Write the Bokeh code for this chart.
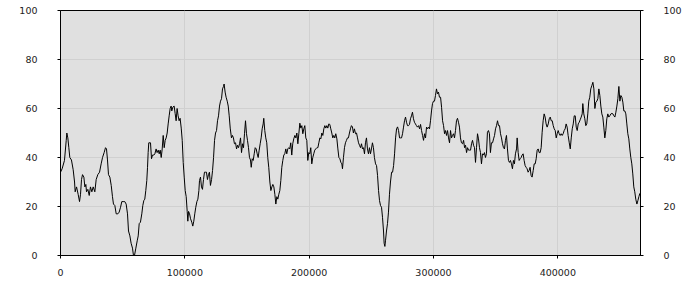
from bokeh.plotting import figure
from bokeh.models import Range1d, LinearAxis, FixedTicker, BasicTickFormatter
from bokeh.embed import file_html
from bokeh.resources import INLINE

x_vals = [
    0, 1300, 3200, 4600, 5100, 5900, 6700, 7500, 8800, 10200,
    11300, 11800, 12900, 14200, 15300, 16100, 16900, 17700, 18800, 19600,
    20400, 20900, 22000, 23100, 24100, 25200, 26300, 27600, 28700, 30000,
    31400, 32700, 33800, 35100, 36200, 37000, 37800, 38600, 39700, 40800,
    41800, 42600, 43700, 44800, 46100, 47200, 48300, 49300, 50400, 51700,
    52800, 53900, 54700, 55800, 56800, 57900, 58700, 59500, 60600, 61700,
    62500, 63300, 64300, 65400, 66200, 67000, 67800, 68600, 69400, 70000,
    70500, 71000, 72400, 73200, 74000, 75100, 75900, 76900, 77700, 78600,
    79400, 80200, 81000, 81800, 82600, 83400, 84200, 85000, 85800, 86600,
    87400, 88200, 89000, 89500, 90300, 91400, 92200, 93000, 93800, 94600,
    95400, 96200, 97100, 97900, 98700, 99500, 100300, 101100, 101900, 102400,
    103000, 103800, 104600, 105600, 106400, 107200, 108000, 108800, 109700, 110500,
    111300, 111800, 112600, 113400, 114200, 115000, 115800, 116600, 117400, 118200,
    119000, 119800, 120600, 121500, 122300, 123100, 123900, 124700, 125500, 126300,
    127100, 127900, 128700, 129500, 130300, 131100, 131600, 132400, 133200, 134100,
    134900, 135700, 136500,
    137500, 138300, 139100, 139900, 140800, 141600, 142400, 143200, 144000, 144800,
    145600, 146400, 147200, 148000, 148800, 149600, 150400, 151200, 152000, 152800,
    153400, 154200, 155000, 155800, 156600, 157400, 158200, 159000, 159800, 160600,
    161400, 162200, 163000, 163500, 164300, 165100, 165900, 166700, 167500, 168400,
    169200, 170000, 170800, 171600, 172400, 173200, 174000, 174800, 175600, 176400,
    177200, 178000, 178800, 179600, 180400, 181200, 182000, 182800, 183600, 184400,
    185200, 186000, 186800, 187600, 188500, 189300, 190100, 190900, 191700, 192500,
    193300, 194100, 194900, 195700, 196500, 197300, 198100, 198900, 199700, 200500,
    201300, 202100, 202900, 203700, 204500, 205300, 206200, 207000, 207800, 208600,
    209400, 210200, 211000, 211800, 212600, 213400, 214200, 215000, 215800, 216600,
    217400, 218200, 219000, 219800, 220600, 221400, 222300, 223100, 223900, 224700,
    225500, 226300, 226800, 227600, 228400, 229200, 230000, 230800, 231600, 232400,
    233200, 234000, 234800, 235600, 236400, 237300, 238100, 238900, 239700, 240500,
    241300, 242100, 242900, 243700, 244500, 245300, 246100, 246900, 247700, 248500,
    249300, 250100, 250900, 251700, 252500, 253400, 254200, 255000, 255800, 256600,
    257400, 258200, 259000, 259800, 260300, 260900, 261400, 262200, 263000, 263800,
    264600, 265400, 266300, 267100, 267900, 268700, 269500, 270300, 271100, 271900,
    272700, 273500, 274300, 275100, 275900, 276700, 277500, 278300, 279100, 279900,
    280700, 281500, 282300, 283100, 283900, 284700, 285500, 286300, 287100, 288000,
    288800, 289600, 290400, 291200, 292000, 292800, 293600, 294400, 295200, 296000,
    296800, 297600, 298400, 299200, 300000, 300800, 301600, 302400, 303200, 304000,
    304800, 305700, 306500, 307300, 308100, 308900, 309700, 310500, 311300, 312100,
    312900, 313700, 314500, 315300, 316100, 316900, 317700, 318500, 319300, 320100,
    320900, 321700, 322500, 323400, 324200, 325000, 325800, 326600, 327400, 328200,
    329000, 329800,
    330600, 331400, 332200, 333000, 333800, 334600, 335400, 336200, 337000, 337800,
    338600, 339400, 340200, 341000, 341800, 342600, 343400, 344200, 345000, 345800,
    346600, 347500, 348300, 349100, 349900, 350700, 351500, 352300, 353100, 353900,
    354700, 355500, 356300, 357100, 357900, 358700, 359500, 360300, 361100, 361900,
    362700, 363500, 364300, 365100, 365900, 366800, 367300, 368100, 368900, 369700,
    370500, 371300, 372100, 372900, 373700, 374500, 375300, 376100, 376900, 377700,
    378500, 379300, 380200, 381000, 381800, 382600, 383400, 384200, 385000, 385800,
    386600, 387400, 388200, 389000, 389800, 390600, 391400, 392300, 393100, 393900,
    394700, 395500, 396300, 397100, 397900, 398700, 399500, 400300, 401100, 401900,
    402700, 403500, 404300, 405100, 405900, 406700, 407500, 408300, 409200, 410000,
    410800, 411600, 412400, 413200, 414000, 414800, 415600, 416400, 417200, 418000,
    418800, 419600, 420100, 420900, 421700, 422500, 423300, 424100, 424900, 425700,
    426500, 427400, 428200, 429000, 429800, 430600, 431400, 432200, 433000, 433800,
    434600, 435400, 436200, 437000, 437800, 438600, 439400, 440200, 441000, 441800,
    442700, 443500, 444300, 445100, 445900, 446700, 447500, 448300, 449100, 449900,
    450700, 451500, 452300, 453100, 453900, 454700, 455500, 456300, 457100, 457900,
    458700, 459500, 460300, 461100, 461900, 462700, 463600, 464400, 465200, 466000,
]

y_vals = [
    34, 35.4, 38.8, 47, 50, 48, 44, 40, 39, 35,
    30, 26, 28, 25, 22, 25, 31, 33, 32, 28,
    29, 26, 27, 24.5, 28, 26, 28, 26, 31, 33,
    34, 37.4, 40, 42, 44, 43.5, 39, 33, 32, 28.6,
    24, 21, 20.4, 17, 17, 17.7, 19.7, 22, 22, 22,
    21, 17, 10, 8, 5, 3, 0, 0, 3, 6,
    8, 13, 13.6, 17, 20.4, 22.4, 23, 26.5, 30.6, 36,
    42, 46, 46, 39.5, 41, 41, 41.5, 43.5, 42, 43,
    41.5, 43, 40, 43.5, 49, 44, 47, 48, 50, 53.7,
    57, 60, 61, 59, 60.5, 61, 58, 55, 60, 57,
    55, 56, 52, 47, 38, 32, 26.5, 24, 18, 14,
    18, 17, 15, 13.6, 12, 14, 17, 19.7, 22, 23,
    26.5, 30.6, 32, 28, 27, 31, 34, 34, 34, 31,
    33, 34, 28.6, 31, 34.7, 40, 47, 50, 51, 55,
    57, 61, 63, 64, 68, 69, 70, 66.7, 64.6, 63,
    61, 57, 52,
    48, 49, 48, 45.6, 46, 43.5, 45, 44, 45.6, 48,
    42, 45.6, 44, 49.7, 55, 49.7, 47, 44, 40, 39,
    36, 39.5, 38.8, 41.5, 44, 43.5, 41.5, 40, 43, 45.6,
    48, 51.7, 53.7, 56, 51, 48, 46, 40, 36, 30,
    26.5, 28, 29, 28, 25, 21, 24, 23, 25, 26.5,
    30.6, 36, 38.8, 41, 41.5, 43.5, 41.5, 43.5, 44, 43.5,
    46, 41, 45.6, 47.6, 49, 48, 50, 45.6, 49.7, 54,
    52, 53, 49.7, 51.7, 53, 48, 47, 38.8, 42, 41.5,
    44, 37.4, 40, 41.5, 43, 43.5, 44, 44, 46, 48,
    47.6, 50, 49, 51.7, 53, 52, 53, 52, 53.7, 53.5,
    51.7, 50, 48, 49, 48, 49.7, 47.6, 43.5, 40, 39.5,
    38, 37.4, 35.4, 40, 44, 46, 47, 48, 48, 50,
    51.7, 53, 52.5, 50, 51.7, 49.7, 50, 48, 46, 45,
    44, 45.6, 43.5, 44, 41.5, 46, 48, 43.5, 41.5, 44,
    41.5, 43.5, 46, 44, 40, 37.4, 36.7, 32.7, 26.5, 22.4,
    20.4, 19.7, 15.6, 10, 5, 3.7, 6, 10, 13, 17.7,
    25, 30, 34, 34, 36.7, 41.5, 48, 51.7, 52.5, 51,
    48, 48, 48, 49.7, 52.4, 55, 56.5, 54.4, 53, 53,
    53.5, 55.8, 57, 58.5, 55.8, 54.4, 53.7, 53, 52.4, 53,
    51.7, 53.5, 51, 49, 47, 49.7, 48, 52.4, 51.7, 52.4,
    51.7, 55, 59, 62, 63, 63, 65.3, 68, 66, 66.7,
    64.6, 64.6, 60.5, 55, 53, 49.7, 51, 49, 51, 48,
    46, 51, 48, 49, 49.7, 48, 51, 55, 56, 54.4,
    52.4, 48, 46, 45.6, 47, 44, 45, 42, 44, 43,
    43, 43,
    45.6, 47, 45, 44, 38, 44, 49.7, 47.6, 44, 42,
    37.4, 41.5, 41, 42, 40, 41.5, 50.3, 51, 49.7, 42,
    46, 46, 47.6, 49, 51.7, 53, 55, 53, 53, 49.7,
    48, 45.6, 44, 43.5, 47, 49, 43.5, 38.8, 38, 38.8,
    37.4, 35.4, 38.8, 37.4, 41.5, 43.5, 48, 42, 38.8, 39.5,
    40, 41, 41.5, 38.8, 36.7, 36, 35.4, 34, 34.7, 36,
    32.7, 32, 34.7, 37.4, 37.4, 39.5, 43, 43.5, 42, 42,
    44, 50.3, 55, 57.8, 56.5, 53.7, 52.4, 53.7, 55.8, 56.5,
    55, 55, 53, 51.7, 51, 48, 49.7, 51, 49.7, 49,
    49.7, 49, 49.7, 51, 51.7, 53.7, 52.4, 49, 46, 43.5,
    48, 51.7, 53.7, 57, 57, 52.4, 51, 53.7, 54.4, 55.4,
    56.5, 57.8, 62, 57.8, 55.8, 53, 53.7, 57.8, 63, 64.6,
    68, 69.4, 70.7, 68, 60, 62.6, 63, 64, 68, 65.3,
    61, 57.8, 56.5, 52.4, 48, 51, 55.8, 57.8, 56.5, 57,
    57.8, 58, 57.8, 57, 56.5, 58.5, 61, 64, 69, 63,
    65.3, 64.6, 62.6, 59, 59, 57.8, 53.7, 49.7, 47.6, 43.5,
    40, 37.4, 33.3, 28, 26, 23, 21, 22.4, 24, 25.4,
]

x_ticks = [0, 100000, 200000, 300000, 400000]
y_ticks = [0, 20, 40, 60, 80, 100]

n = min(len(x_vals), len(y_vals))

p = figure(width=700, height=300, output_backend="svg", toolbar_location=None,
           x_range=Range1d(0, 466500), y_range=Range1d(0, 100),
           min_border_left=60, min_border_right=60, min_border_top=10,
           min_border_bottom=45, background_fill_color="#e0e0e0",
           border_fill_color="white")
p.outline_line_color = "black"
p.outline_line_width = 1

p.line(x_vals[:n], y_vals[:n], line_color="black", line_width=1)

p.add_layout(LinearAxis(), "right")

for ax in p.xaxis:
    ax.ticker = FixedTicker(ticks=x_ticks)
    ax.formatter = BasicTickFormatter(use_scientific=False)
    ax.major_label_standoff = 10
for ax in p.yaxis:
    ax.ticker = FixedTicker(ticks=y_ticks)
    ax.major_label_standoff = 20
for ax in p.xaxis + p.yaxis:
    ax.axis_line_color = "black"
    ax.major_tick_line_color = "black"
    ax.major_tick_out = 3
    ax.major_tick_in = 0
    ax.minor_tick_line_color = None
    ax.major_label_text_font = "DejaVu Sans"
    ax.major_label_text_font_size = "9.5px"
    ax.major_label_text_color = "#222222"

p.grid.grid_line_color = "#d0d0d0"
p.grid.grid_line_width = 1
p.xgrid.ticker = FixedTicker(ticks=x_ticks)
p.ygrid.ticker = FixedTicker(ticks=y_ticks)

open("out.html", "w").write(file_html(p, INLINE))
